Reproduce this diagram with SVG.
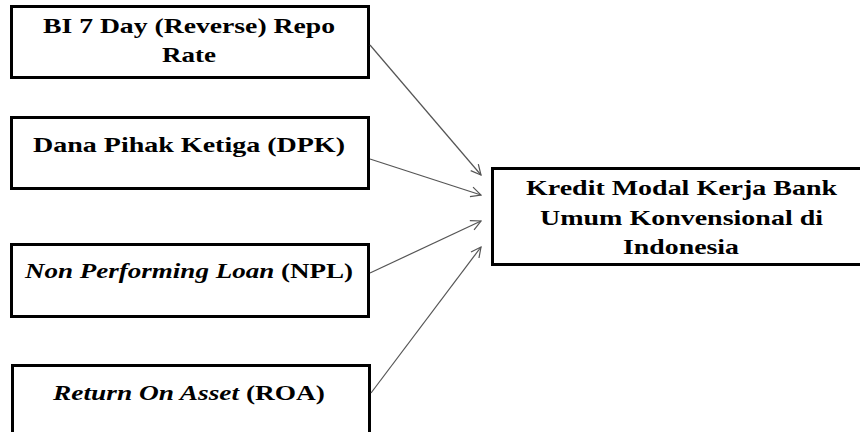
<svg xmlns="http://www.w3.org/2000/svg" width="860" height="432" viewBox="0 0 860 432">
<defs>
<style>
.box{fill:#fff;stroke:#000;stroke-width:3}
.t{font-family:"Liberation Serif","DejaVu Serif","Times New Roman",serif;font-weight:bold;font-size:22px;fill:#000;text-anchor:middle}
.i{font-style:italic}
.c{stroke:#555;stroke-width:1.2;fill:none;marker-end:url(#ah)}
</style>
<marker id="ah" viewBox="0 0 12 12" refX="11" refY="6" markerWidth="12" markerHeight="12" markerUnits="userSpaceOnUse" orient="auto">
<path d="M1,1 L11,6 L1,11" fill="none" stroke="#555" stroke-width="1.2"/>
</marker>
</defs>
<rect width="860" height="432" fill="#fff"/>
<g id="n1">
<rect class="box" x="11.5" y="6.5" width="357" height="71"/>
<text class="t" x="189" y="33" textLength="292" lengthAdjust="spacingAndGlyphs">BI 7 Day (Reverse) Repo</text>
<text class="t" x="189" y="62" textLength="54" lengthAdjust="spacingAndGlyphs">Rate</text>
</g>
<g id="n2">
<rect class="box" x="11.5" y="117.5" width="357" height="71"/>
<text class="t" x="189" y="152" textLength="312" lengthAdjust="spacingAndGlyphs">Dana Pihak Ketiga (DPK)</text>
</g>
<g id="n3">
<rect class="box" x="11.5" y="244.5" width="357" height="72"/>
<text class="t" x="189" y="278" textLength="328" lengthAdjust="spacingAndGlyphs"><tspan class="i">Non Performing Loan</tspan> (NPL)</text>
</g>
<g id="n4">
<rect class="box" x="12.5" y="365.5" width="357" height="80"/>
<text class="t" x="189" y="400" textLength="272" lengthAdjust="spacingAndGlyphs"><tspan class="i">Return On Asset</tspan> (ROA)</text>
</g>
<g id="n5">
<rect class="box" x="492.5" y="168.5" width="380" height="96"/>
<text class="t" x="681.5" y="195" textLength="311" lengthAdjust="spacingAndGlyphs">Kredit Modal Kerja Bank</text>
<text class="t" x="681.5" y="225" textLength="283" lengthAdjust="spacingAndGlyphs">Umum Konvensional di</text>
<text class="t" x="681" y="254" textLength="116" lengthAdjust="spacingAndGlyphs">Indonesia</text>
</g>
<g id="connectors">
<line class="c" x1="370" y1="45" x2="481" y2="175"/>
<line class="c" x1="370" y1="159" x2="481" y2="195"/>
<line class="c" x1="370" y1="273" x2="481" y2="221"/>
<line class="c" x1="371" y1="393" x2="481" y2="247"/>
</g>
</svg>
